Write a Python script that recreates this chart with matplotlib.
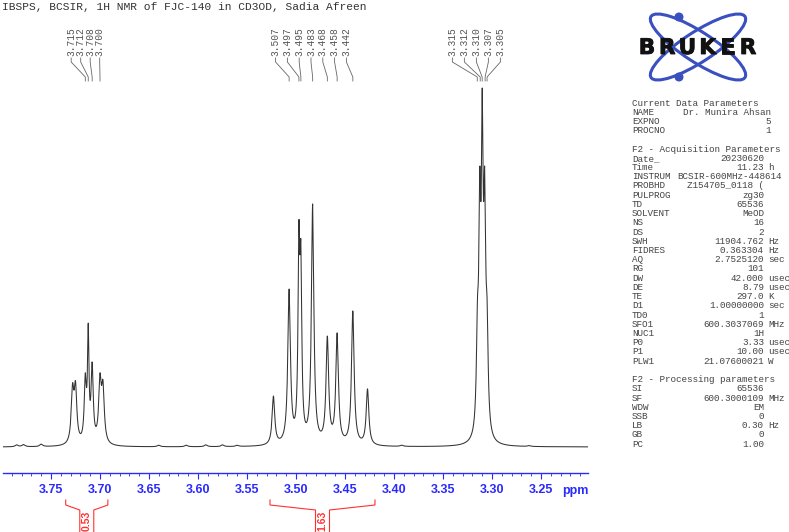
import numpy as np
import matplotlib
matplotlib.use("Agg")
import matplotlib.pyplot as plt
from matplotlib.patches import Ellipse, Circle
import matplotlib.patheffects as pe

# spectrum peaks: position (ppm), height (% of tallest), half width (ppm)
peak_ppm = [3.728, 3.725, 3.715, 3.712, 3.708, 3.700, 3.697,
            3.523, 3.507, 3.497, 3.495, 3.483, 3.468, 3.458, 3.442, 3.427,
            3.3148, 3.3124, 3.3099, 3.3074, 3.3050]
peak_height = [17.8, 18.4, 20.6, 34.5, 23.7, 20.6, 18.7,
               14.2, 44.0, 63.0, 57.4, 67.7, 30.9, 31.8, 37.9, 16.2,
               41.5, 78.0, 100.0, 78.0, 41.5]
peak_hwhm = [0.0016, 0.0016, 0.0013, 0.0009, 0.0013, 0.0016, 0.0016,
             0.0016, 0.0016, 0.0011, 0.0011, 0.0015, 0.0016, 0.0016, 0.0016, 0.0016,
             0.0013, 0.0012, 0.0011, 0.0012, 0.0013]

# small baseline bumps
bump_ppm = [3.785, 3.778, 3.760, 3.640, 3.612, 3.592, 3.575, 3.560, 3.392, 3.262]
bump_height = [0.6, 0.7, 0.8, 0.5, 0.5, 0.6, 0.6, 0.5, 0.5, 0.4]

# peak picking labels
label_groups = [[3.715, 3.712, 3.708, 3.700],
                [3.507, 3.497, 3.495, 3.483, 3.468, 3.458, 3.442],
                [3.315, 3.312, 3.310, 3.307, 3.305]]
label_spacing = [9.5, 11.8, 12.0]

# integrals: (from ppm, to ppm, value)
integ_from = [3.735, 3.5265]
integ_to = [3.692, 3.4194]
integ_value = ["0.53", "1.63"]

tick_ppm = [3.75, 3.70, 3.65, 3.60, 3.55, 3.50, 3.45, 3.40, 3.35, 3.30, 3.25]

title = "IBSPS, BCSIR, 1H NMR of FJC-140 in CD3OD, Sadia Afreen"
params_current = [("NAME", "Dr. Munira Ahsan", ""), ("EXPNO", "5", ""), ("PROCNO", "1", "")]
params_acq = [("Date_", "20230620", ""), ("Time", "11.23", "h"),
              ("INSTRUM", "BCSIR-600MHz-448614", ""), ("PROBHD", "Z154705_0118 (", ""),
              ("PULPROG", "zg30", ""), ("TD", "65536", ""), ("SOLVENT", "MeOD", ""),
              ("NS", "16", ""), ("DS", "2", ""), ("SWH", "11904.762", "Hz"),
              ("FIDRES", "0.363304", "Hz"), ("AQ", "2.7525120", "sec"), ("RG", "101", ""),
              ("DW", "42.000", "usec"), ("DE", "8.79", "usec"), ("TE", "297.0", "K"),
              ("D1", "1.00000000", "sec"), ("TD0", "1", ""), ("SFO1", "600.3037069", "MHz"),
              ("NUC1", "1H", ""), ("P0", "3.33", "usec"), ("P1", "10.00", "usec"),
              ("PLW1", "21.07600021", "W")]
params_proc = [("SI", "65536", ""), ("SF", "600.3000109", "MHz"), ("WDW", "EM", ""),
               ("SSB", "0", ""), ("LB", "0.30", "Hz"), ("GB", "0", ""), ("PC", "1.00", "")]

XL, XR = 3.799, 3.202
W, H = 789, 532
BLUE = "#2a2aff"
RED = "#ff3030"
MONO = "Liberation Mono"
GREY = "#444444"


def px(p):  # ppm -> figure pixel x
    return 3 + (XL - p) / (XL - XR) * 585


def lor(x, p, g):
    return 1.0 / (1.0 + ((x - p) / g) ** 2)


# solve for line amplitudes so the summed curve hits the read heights
all_ppm = np.array(peak_ppm + bump_ppm)
all_h = np.array(peak_height + bump_height)
all_g = np.array(peak_hwhm + [0.0018] * len(bump_ppm))
A = lor(all_ppm[:, None], all_ppm[None, :], all_g[None, :])
amps = np.linalg.solve(A, all_h)

x = np.linspace(XR, XL, 40000)
y = np.zeros_like(x)
for p, a, g in zip(all_ppm, amps, all_g):
    y += a * lor(x, p, g)

fig = plt.figure(figsize=(W / 100, H / 100), dpi=100)

ov = fig.add_axes([0, 0, 1, 1])
ov.set_xlim(0, W)
ov.set_ylim(H, 0)
ov.axis("off")
ov.set_facecolor("none")

ax = fig.add_axes([3 / W, (H - 473) / H, 585 / W, (473 - 70) / H])
ax.set_facecolor("none")
ax.plot(x, y, color="#333333", lw=0.75)
ax.set_xlim(XL, XR)
ax.set_ylim(-7.24, 105)
for s in ["top", "left", "right"]:
    ax.spines[s].set_visible(False)
ax.spines["bottom"].set_color(BLUE)
ax.spines["bottom"].set_linewidth(1.0)
ax.set_yticks([])
ax.set_xticks(tick_ppm)
ax.set_xticklabels([f"{t:.2f}" for t in tick_ppm])
ax.set_xticks(np.arange(3.21, 3.80, 0.01), minor=True)
ax.tick_params(axis="x", which="major", direction="out", length=4.5, width=0.8,
               color=BLUE, labelcolor=BLUE, pad=3.5)
ax.tick_params(axis="x", which="minor", direction="out", length=2.2, width=0.6, color=BLUE)
for lab in ax.get_xticklabels():
    lab.set_fontfamily("Liberation Sans")
    lab.set_fontweight("bold")
    lab.set_fontsize(9)
ov.text(575, 491, "ppm", color=BLUE, fontsize=9, fontweight="bold",
        family="Liberation Sans", ha="center", va="center")

# title
ov.text(2, 7, title, family=MONO, fontsize=8.1, color="#333333", ha="left", va="center")

# peak labels with leader lines
for grp, sp in zip(label_groups, label_spacing):
    centre = np.mean([px(p) for p in grp]) - 6
    n = len(grp)
    for i, p in enumerate(grp):
        lx = centre + (i - (n - 1) / 2) * sp
        ov.text(lx, 56, f"{p:.3f}", rotation=90, family=MONO, fontsize=6.9,
                color="#555555", ha="center", va="bottom")
        tx = px(p)
        ov.plot([lx, lx, tx, tx], [58, 62, 77, 81], color="#666666", lw=0.6)

# integrals
for a, b, v in zip(integ_from, integ_to, integ_value):
    xa, xb = px(a), px(b)
    xm = (xa + xb) / 2
    ov.plot([xa, xa, xm - 7, xm - 7], [500, 505, 510, 532], color=RED, lw=0.8)
    ov.plot([xb, xb, xm + 7, xm + 7], [500, 505, 510, 532], color=RED, lw=0.8)
    ov.text(xm, 521, v, rotation=90, color=RED, fontsize=7.5, fontweight="bold",
            family="Liberation Sans", ha="center", va="center")

# parameter block
line_h = 9.22


def header(txt, r):
    ov.text(632, 103 + r * line_h, txt, family=MONO, fontsize=6.7, color=GREY,
            ha="left", va="center")


def param_rows(items, r, right):
    for name, val, unit in items:
        yy = 103 + r * line_h
        ov.text(632, yy, name, family=MONO, fontsize=6.7, color=GREY, ha="left", va="center")
        if name == "INSTRUM":
            ov.text(677, yy, val, family=MONO, fontsize=6.7, color=GREY, ha="left", va="center")
        else:
            ov.text(right, yy, val, family=MONO, fontsize=6.7, color=GREY, ha="right", va="center")
        if unit:
            ov.text(right + 4, yy, unit, family=MONO, fontsize=6.7, color=GREY, ha="left", va="center")
        r += 1
    return r


header("Current Data Parameters", 0)
r = param_rows(params_current, 1, 771)
header("F2 - Acquisition Parameters", r + 1)
r = param_rows(params_acq, r + 2, 764)
header("F2 - Processing parameters", r + 1)
param_rows(params_proc, r + 2, 764)

# Bruker logo
LOGO = "#3a4fc0"
ov.add_patch(Ellipse((698, 47), 112, 30, angle=33, fill=False, ec=LOGO, lw=2.2))
ov.add_patch(Ellipse((698, 47), 112, 30, angle=-33, fill=False, ec=LOGO, lw=2.2))
ov.add_patch(Circle((679, 17), 3.8, color=LOGO))
ov.add_patch(Circle((679, 77), 3.8, color=LOGO))
for i, ch in enumerate("BRUKER"):
    ov.text(647 + i * 20.2, 48, ch, fontsize=15.5, fontweight="bold", family="DejaVu Sans",
            color="#111111", ha="center", va="center", zorder=5,
            path_effects=[pe.withStroke(linewidth=0.6, foreground="#111111")])

fig.savefig("out.png", dpi=100)
